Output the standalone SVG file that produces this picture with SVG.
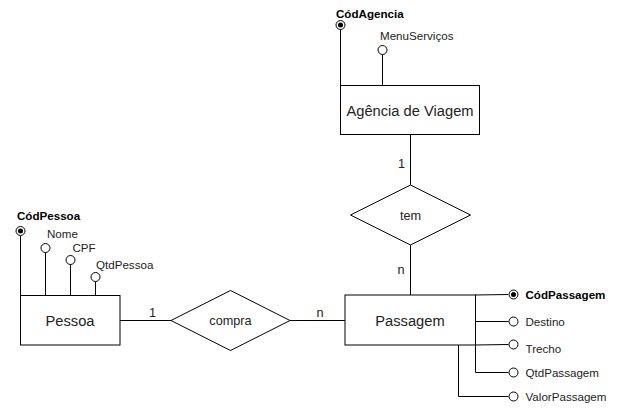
<svg xmlns="http://www.w3.org/2000/svg" width="621" height="417" viewBox="0 0 621 417">
<style>
.box{fill:#fff;stroke:#000;stroke-width:1}
.ln{fill:none;stroke:#000;stroke-width:1}
.att{fill:#fff;stroke:#000;stroke-width:1}
.dot{fill:#000}
text{font-family:"Liberation Sans",Arial,sans-serif;fill:#222}
.main{font-size:14.7px;text-anchor:middle}
.rel{font-size:12.7px;text-anchor:middle}
.card{font-size:12.7px}
.a{font-size:11.6px}
.k{font-size:11.6px;font-weight:bold;fill:#000}
</style>
<rect width="621" height="417" fill="#fff"/>
<g id="connectors">
<line class="ln" x1="120" y1="320.5" x2="171" y2="320.5"/>
<line class="ln" x1="290" y1="320.5" x2="345" y2="320.5"/>
<line class="ln" x1="410.5" y1="135" x2="410.5" y2="185"/>
<line class="ln" x1="410.5" y1="245" x2="410.5" y2="295"/>
<line class="ln" x1="340.5" y1="30" x2="340.5" y2="85"/>
<line class="ln" x1="382.5" y1="54.5" x2="382.5" y2="85"/>
<line class="ln" x1="20.5" y1="236" x2="20.5" y2="295"/>
<line class="ln" x1="45.5" y1="252.5" x2="45.5" y2="295"/>
<line class="ln" x1="70.5" y1="264.5" x2="70.5" y2="295"/>
<line class="ln" x1="95.5" y1="281.5" x2="95.5" y2="295"/>
<polyline class="ln" points="475,295 508,294.5"/>
<line class="ln" x1="475.5" y1="321.5" x2="508.5" y2="321.5"/>
<polyline class="ln" points="475,345 508.5,344.5"/>
<polyline class="ln" points="475.5,345 475.5,372.5 508.5,372.5"/>
<polyline class="ln" points="458.5,345 458.5,396.5 508.5,396.5"/>
<text class="card" x="149" y="317">1</text>
<text class="card" x="316.5" y="317">n</text>
<text class="card" x="398" y="168">1</text>
<text class="card" x="397.5" y="274">n</text>
</g>
<g id="agencia">
<rect class="box" x="340.5" y="85.5" width="139" height="49"/>
<text class="main" x="410" y="115.5">Agência de Viagem</text>
</g>
<g id="codagencia">
<circle class="att" cx="340.5" cy="25" r="4.5"/>
<circle class="dot" cx="340.5" cy="25" r="2.5"/>
<text class="k" x="336" y="18">CódAgencia</text>
</g>
<g id="menuservicos">
<circle class="att" cx="382.5" cy="50" r="4.5"/>
<text class="a" x="380" y="39.5">MenuServiços</text>
</g>
<g id="tem">
<polygon class="box" points="410.5,185 470.5,215 410.5,245 350.5,215"/>
<text class="rel" x="410.5" y="219.5">tem</text>
</g>
<g id="pessoa">
<rect class="box" x="20.5" y="295.5" width="99.5" height="49.5"/>
<text class="main" x="70" y="325.5">Pessoa</text>
</g>
<g id="codpessoa">
<circle class="att" cx="20.5" cy="231" r="4.5"/>
<circle class="dot" cx="20.5" cy="231" r="2.5"/>
<text class="k" x="17" y="220">CódPessoa</text>
</g>
<g id="nome">
<circle class="att" cx="45.5" cy="248" r="4.5"/>
<text class="a" x="47" y="237.5">Nome</text>
</g>
<g id="cpf">
<circle class="att" cx="70.5" cy="260" r="4.5"/>
<text class="a" x="72.5" y="252">CPF</text>
</g>
<g id="qtdpessoa">
<circle class="att" cx="95.5" cy="277" r="4.5"/>
<text class="a" x="96" y="269">QtdPessoa</text>
</g>
<g id="compra">
<polygon class="box" points="230.5,290.5 290,320.5 230.5,350.5 171,320.5"/>
<text class="rel" x="230.5" y="325">compra</text>
</g>
<g id="passagem">
<rect class="box" x="345" y="295" width="130.5" height="50"/>
<text class="main" x="410" y="325.5">Passagem</text>
</g>
<g id="codpassagem">
<circle class="att" cx="513.5" cy="294.5" r="4.5"/>
<circle class="dot" cx="513.5" cy="294.5" r="2.5"/>
<text class="k" x="525.5" y="298.5">CódPassagem</text>
</g>
<g id="destino">
<circle class="att" cx="513.5" cy="321.5" r="4.5"/>
<text class="a" x="525.5" y="325.5">Destino</text>
</g>
<g id="trecho">
<circle class="att" cx="513.5" cy="344.5" r="4.5"/>
<text class="a" x="525.5" y="352.5">Trecho</text>
</g>
<g id="qtdpassagem">
<circle class="att" cx="513.5" cy="372.5" r="4.5"/>
<text class="a" x="525.5" y="376.5">QtdPassagem</text>
</g>
<g id="valorpassagem">
<circle class="att" cx="513.5" cy="396.5" r="4.5"/>
<text class="a" x="525.5" y="400.5">ValorPassagem</text>
</g>
</svg>
